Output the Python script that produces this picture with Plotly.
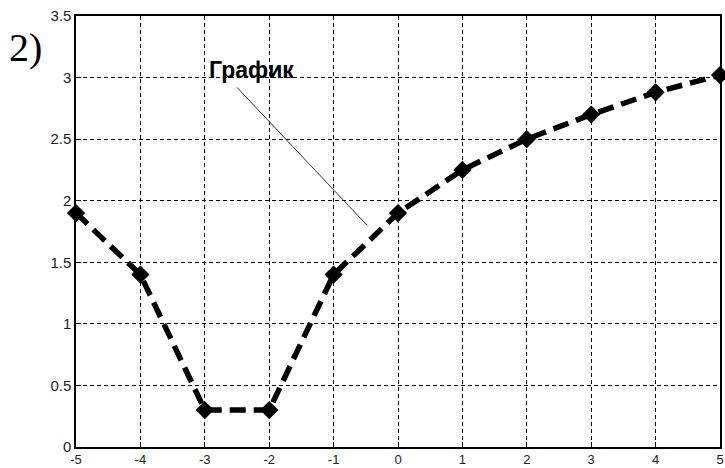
import plotly.graph_objects as go

x_vals = [-5, -4, -3, -2, -1, 0, 1, 2, 3, 4, 5]
y_vals = [1.9, 1.4, 0.3, 0.3, 1.4, 1.9, 2.25, 2.5, 2.7, 2.88, 3.02]
x_ticks = [-5, -4, -3, -2, -1, 0, 1, 2, 3, 4, 5]
x_tick_text = ["-5", "-4", "-3", "-2", "-1", "0", "1", "2", "3", "4", "5"]
y_ticks = [0, 0.5, 1, 1.5, 2, 2.5, 3, 3.5]
y_tick_text = ["0", "0.5", "1", "1.5", "2", "2.5", "3", "3.5"]
label_text = "График"
panel_text = "2)"
# annotation pointer (data coordinates): text position, line start, line end
label_pos = (-2.28, 3.06)
pointer_start = (-2.5, 2.92)
pointer_end = (-0.48, 1.80)

fig = go.Figure()
fig.add_trace(go.Scatter(
    x=x_vals, y=y_vals, mode="lines+markers",
    line=dict(color="black", width=5.5, dash="16px,8px"),
    marker=dict(symbol="diamond", size=14, color="black"),
    showlegend=False, cliponaxis=False,
))

axis_common = dict(
    showgrid=True, gridcolor="black", gridwidth=1, griddash="4px,3px",
    showline=True, linecolor="black", linewidth=1.5, mirror=True,
    ticks="inside", ticklen=5, tickcolor="black",
    zeroline=False, automargin=False,
)
fig.update_xaxes(range=[-5, 5], tickvals=x_ticks, ticktext=x_tick_text,
                 tickfont=dict(family="Liberation Sans, Arial", size=13, color="#222"),
                 **axis_common)
fig.update_yaxes(range=[0, 3.5], tickvals=y_ticks, ticktext=y_tick_text,
                 tickfont=dict(family="Liberation Sans, Arial", size=15, color="#222"),
                 **axis_common)

fig.add_shape(
    type="line", xref="x", yref="y",
    x0=pointer_start[0], y0=pointer_start[1], x1=pointer_end[0], y1=pointer_end[1],
    line=dict(color="#333", width=1),
)
fig.add_annotation(
    x=label_pos[0], y=label_pos[1], xref="x", yref="y",
    text="<b>" + label_text + "</b>", showarrow=False,
    xanchor="center", yanchor="middle",
    font=dict(family="Liberation Sans, Arial", size=23, color="black"),
)
fig.add_annotation(
    x=-0.079, y=0.928, xref="paper", yref="paper", text=panel_text, showarrow=False,
    xanchor="center", yanchor="middle",
    font=dict(family="Liberation Serif, Times New Roman", size=40, color="black"),
)

fig.update_layout(
    width=725, height=468,
    margin=dict(l=76, r=5, t=16, b=21),
    paper_bgcolor="white", plot_bgcolor="white",
)
fig.write_html("out.html")
